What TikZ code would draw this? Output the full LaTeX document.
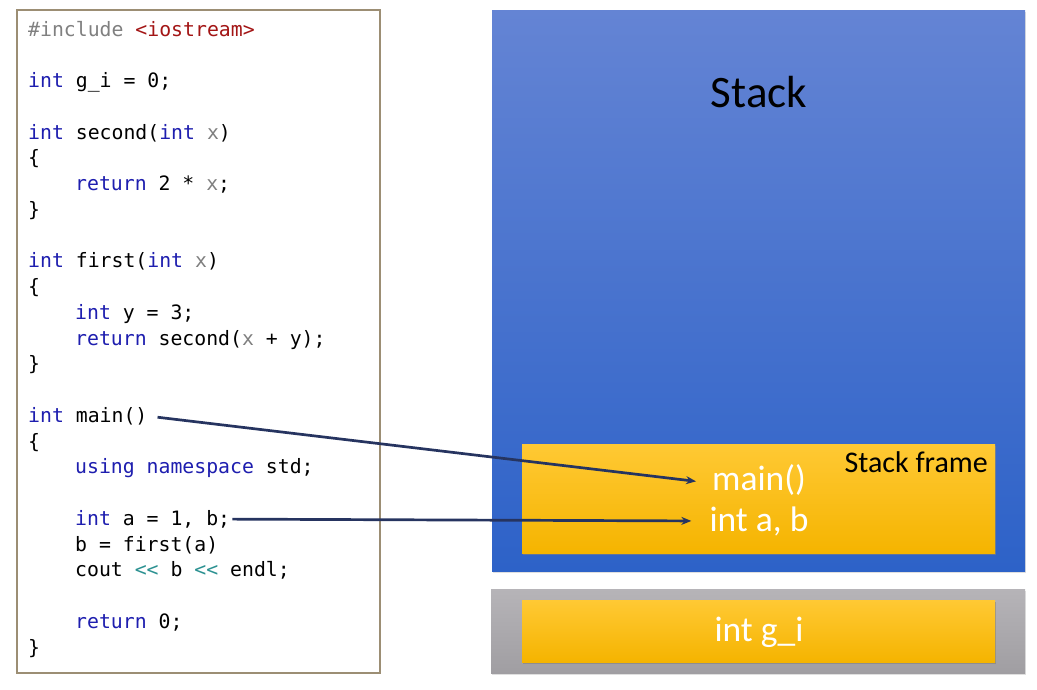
\documentclass[tikz,border=0pt]{standalone}
\usepackage{fontspec}
\setmainfont{Carlito}
\newfontfamily\codefont{DejaVu Sans Mono}
\usetikzlibrary{arrows.meta,shadows}

\definecolor{kwblue}{RGB}{30,30,175}
\definecolor{ppgray}{RGB}{128,128,128}
\definecolor{strred}{RGB}{163,21,21}
\definecolor{opteal}{RGB}{43,145,145}
\definecolor{frameline}{RGB}{156,142,116}
\definecolor{arrowblue}{RGB}{38,52,96}

% syntax colouring helpers for the listing
\newcommand{\kw}[1]{\textcolor{kwblue}{#1}}
\newcommand{\prm}[1]{\textcolor{ppgray}{#1}}
\newcommand{\strl}[1]{\textcolor{strred}{#1}}
\newcommand{\opr}[1]{\textcolor{opteal}{#1}}

\tikzset{
  codeline/.style={anchor=base west, inner sep=0pt,
    font=\codefont\fontsize{19.8}{25.8}\selectfont},
  memlbl/.style={font=\fontsize{35.5}{40}\selectfont, text=white, inner sep=2pt},
  stackbox/.style={draw=none, top color={rgb,255:red,100;green,132;blue,212},
    bottom color={rgb,255:red,45;green,98;blue,200},
    drop shadow={opacity=0.25, shadow xshift=1pt, shadow yshift=-2pt}},
  globbox/.style={draw=none, top color={rgb,255:red,182;green,180;blue,184},
    bottom color={rgb,255:red,160;green,158;blue,162},
    drop shadow={opacity=0.25, shadow xshift=1pt, shadow yshift=-2pt}},
  varbox/.style={draw=none, top color={rgb,255:red,255;green,201;blue,52},
    bottom color={rgb,255:red,245;green,180;blue,0},
    drop shadow={opacity=0.6, shadow xshift=0.5pt, shadow yshift=-2pt}},
  ptr/.style={draw=arrowblue, line width=2.7pt,
    -{Stealth[length=10pt,width=8pt]}},
}

\begin{document}
\begin{tikzpicture}[x=1pt,y=-1pt]
\useasboundingbox (0,0) rectangle (1037,689);

% source listing
\node[draw=frameline, line width=1.5pt, fill=white, minimum width=363pt,
      minimum height=663pt, inner sep=0pt] (code) at (198.5,341.5) {};

\node[codeline] (l0)  at (28,36.00)  {\prm{\#include} \strl{<iostream>}};
\node[codeline] (l2)  at (28,87.50)  {\kw{int} g\_i = 0;};
\node[codeline] (l4)  at (28,139.00) {\kw{int} second(\kw{int} \prm{x})};
\node[codeline] (l5)  at (28,164.75) {\{};
\node[codeline] (l6)  at (75,190.50) {\kw{return} 2 * \prm{x};};
\node[codeline] (l7)  at (28,216.25) {\}};
\node[codeline] (l9)  at (28,267.75) {\kw{int} first(\kw{int} \prm{x})};
\node[codeline] (l10) at (28,293.50) {\{};
\node[codeline] (l11) at (75,319.25) {\kw{int} y = 3;};
\node[codeline] (l12) at (75,345.00) {\kw{return} second(\prm{x} + y);};
\node[codeline] (l13) at (28,370.75) {\}};
\node[codeline] (l15) at (28,422.25) {\kw{int} main()};
\node[codeline] (l16) at (28,448.00) {\{};
\node[codeline] (l17) at (75,473.75) {\kw{using} \kw{namespace} std;};
\node[codeline] (l19) at (75,525.25) {\kw{int} a = 1, b;};
\node[codeline] (l20) at (75,551.00) {b = first(a)};
\node[codeline] (l21) at (75,576.75) {cout \opr{<{}<} b \opr{<{}<} endl;};
\node[codeline] (l23) at (75,628.25) {\kw{return} 0;};
\node[codeline] (l24) at (28,654.00) {\}};

% stack region with the frame of main()
\node[stackbox, minimum width=533pt, minimum height=561pt, inner sep=0pt]
  (stack) at (758.5,290.5) {};
\node[font=\fontsize{45}{50}\selectfont] (stacktitle) at (759,92) {Stack};

\node[varbox, minimum width=473pt, minimum height=109pt, inner sep=0pt]
  (frame) at (758.5,498.5) {};
\node[anchor=east, font=\fontsize{30}{34}\selectfont, inner sep=0pt]
  (framelbl) at (988,462) {Stack frame};
\node[memlbl] (mainlbl) at (759,480) {main()};
\node[memlbl] (varlbl)  at (759,521) {int a, b};

% global data region
\node[globbox, minimum width=534pt, minimum height=84pt, inner sep=0pt]
  (glob) at (758,631) {};
\node[varbox, minimum width=473pt, minimum height=62pt, inner sep=0pt]
  (gvar) at (758.5,631) {};
\node[memlbl] (glbl) at (759,632) {int g\_i};

% pointers from the source to the stack frame
\draw[ptr, shorten <=10pt, shorten >=14pt] (l15.east) -- (mainlbl.west |- 0,483);
\draw[ptr, shorten <=2pt, shorten >=16pt] (l19.east) -- (varlbl.west);
\end{tikzpicture}
\end{document}
